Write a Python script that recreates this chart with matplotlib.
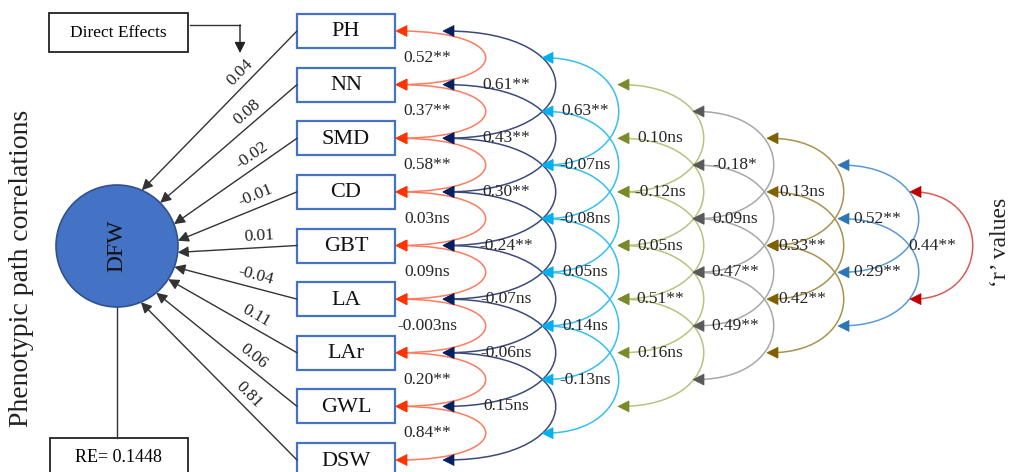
import numpy as np
import matplotlib.pyplot as plt
from matplotlib.patches import Rectangle, Circle, Polygon, PathPatch
from matplotlib.path import Path

plt.rcParams['font.family'] = 'serif'
plt.rcParams['font.serif'] = ['Liberation Serif', 'DejaVu Serif']

traits = ['PH', 'NN', 'SMD', 'CD', 'GBT', 'LA', 'LAr', 'GWL', 'DSW']
direct = ['0.04', '0.08', '-0.02', '-0.01', '0.01', '-0.04', '0.11', '0.06', '0.81']
residual = 'RE= 0.1448'

# correlation labels, one list per arc "ring" (lag 1 .. lag 8)
r1 = ['0.52**', '0.37**', '0.58**', '0.03ns', '0.09ns', '-0.003ns', '0.20**', '0.84**']
r2 = ['0.61**', '0.43**', '0.30**', '-0.24**', '-0.07ns', '-0.06ns', '0.15ns']
r3 = ['0.63**', '-0.07ns', '-0.08ns', '0.05ns', '0.14ns', '-0.13ns']
r4 = ['0.10ns', '-0.12ns', '0.05ns', '0.51**', '0.16ns']
r5 = ['-0.18*', '0.09ns', '0.47**', '0.49**']
r6 = ['0.13ns', '0.33**', '0.42**']
r7 = ['0.52**', '0.29**']
r8 = ['0.44**']
rings = [r1, r2, r3, r4, r5, r6, r7, r8]

# layout (pixels)
box_y = np.linspace(31, 460, 9)
box_x0, box_w, box_h = 297, 98, 34
cx, cy, rad = 117, 246, 61
tip_ang = [66, 45, 21, 5, -6, -20, -33, -50, -67]
ring_x = [396, 443, 542, 618, 693, 767, 838, 910]
ring_w = [89, 112, 76, 85, 80, 76, 80, 62]
lab_x = [427, 506, 585, 660, 735, 802, 877, 932]
line_col = ['#FF7A5E', '#3B4A7A', '#35BFF2', '#B9C27C', '#A8A8A8', '#A8924E', '#5B9BD5', '#DA5A56']
head_col = ['#FF3300', '#002060', '#00B0F0', '#7A8A2A', '#595959', '#7F6000', '#2E75B6', '#C00000']

fig = plt.figure(figsize=(10.13, 4.72), dpi=100)
ax = fig.add_axes([0, 0, 1, 1])
ax.set_xlim(0, 1013)
ax.set_ylim(472, 0)
ax.axis('off')


def ypos(g):
    return np.interp(g / 2.0, np.arange(9), box_y)


def head(x, y, c):
    ax.add_patch(Polygon([[x, y], [x + 11, y - 5.5], [x + 11, y + 5.5]],
                         closed=True, fc=c, ec=c, lw=0.5, zorder=4))


# arcs
for k, labs in enumerate(rings):
    x0, w = ring_x[k], ring_w[k]
    for i, lab in enumerate(labs):
        if k == 0:
            g0, g1 = 2 * i, 2 * i + 2
        else:
            g0 = (k - 1) + 2 * i
            g1 = g0 + 4
        ya, yb = ypos(g0), ypos(g1)
        kk = w / 0.75
        p = Path([(x0 + 3, ya), (x0 + kk, ya), (x0 + kk, yb), (x0 + 3, yb)],
                 [Path.MOVETO, Path.CURVE4, Path.CURVE4, Path.CURVE4])
        ax.add_patch(PathPatch(p, fc='none', ec=line_col[k], lw=1.1, zorder=2))
        head(x0, ya, head_col[k])
        head(x0, yb, head_col[k])
        ax.text(lab_x[k], (ya + yb) / 2, lab, ha='center', va='center',
                fontsize=12.5, color='#262626', zorder=5)

# boxes and direct paths
for i, t in enumerate(traits):
    y = box_y[i]
    ax.add_patch(Rectangle((box_x0, y - box_h / 2), box_w, box_h, fc='white',
                           ec='#4472C4', lw=1.6, zorder=3))
    ax.text(box_x0 + box_w / 2, y + 1, t, ha='center', va='center',
            fontsize=16, color='#111111', zorder=4)
    a = np.radians(tip_ang[i])
    tx, ty = cx + rad * np.cos(a), cy - rad * np.sin(a)
    ax.annotate('', xy=(tx, ty), xytext=(box_x0, y),
                arrowprops=dict(arrowstyle='-|>', color='#333333', lw=1.0,
                                mutation_scale=16, shrinkA=0, shrinkB=0))
    dx, dy = box_x0 - tx, y - ty
    L = np.hypot(dx, dy)
    rot = np.degrees(np.arctan2(-dy, dx))
    frac = 0.31 if dy <= 0 else 0.36
    px, py = box_x0 - frac * dx, y - frac * dy
    nx, ny = dy / L, -dx / L
    if ny > 0:
        nx, ny = -nx, -ny
    ax.text(px + 12 * nx, py + 12 * ny, direct[i], ha='center', va='center',
            rotation=rot, rotation_mode='anchor', fontsize=12.5, color='#222222')

# DFW node
ax.add_patch(Circle((cx, cy), rad, fc='#4472C4', ec='#2F528F', lw=1.2, zorder=3))
ax.text(cx, cy, 'DFW', rotation=90, ha='center', va='center', fontsize=17,
        color='#111111', zorder=4)

# Direct Effects callout
ax.add_patch(Rectangle((49, 13), 139, 39, fc='white', ec='#222222', lw=1.3))
ax.text(118, 33, 'Direct Effects', ha='center', va='center', fontsize=12.5)
ax.plot([190, 240], [25, 25], color='#333333', lw=1.0)
ax.annotate('', xy=(240, 53), xytext=(240, 25),
            arrowprops=dict(arrowstyle='-|>', color='#222222', lw=1.0,
                            mutation_scale=16, shrinkA=0, shrinkB=0))

# residual
ax.plot([cx, cx], [cy + rad, 438], color='#333333', lw=1.0)
ax.add_patch(Rectangle((50, 438), 138, 40, fc='white', ec='#222222', lw=1.3))
ax.text(118, 458, residual, ha='center', va='center', fontsize=13)

ax.text(22, 268, 'Phenotypic path correlations', rotation=90, ha='center',
        va='center', fontsize=20, color='#222222')
ax.text(1000, 242, '\u2018r\u2019 values', rotation=90, ha='center',
        va='center', fontsize=17, color='#222222')

fig.savefig('out.png', dpi=100)
